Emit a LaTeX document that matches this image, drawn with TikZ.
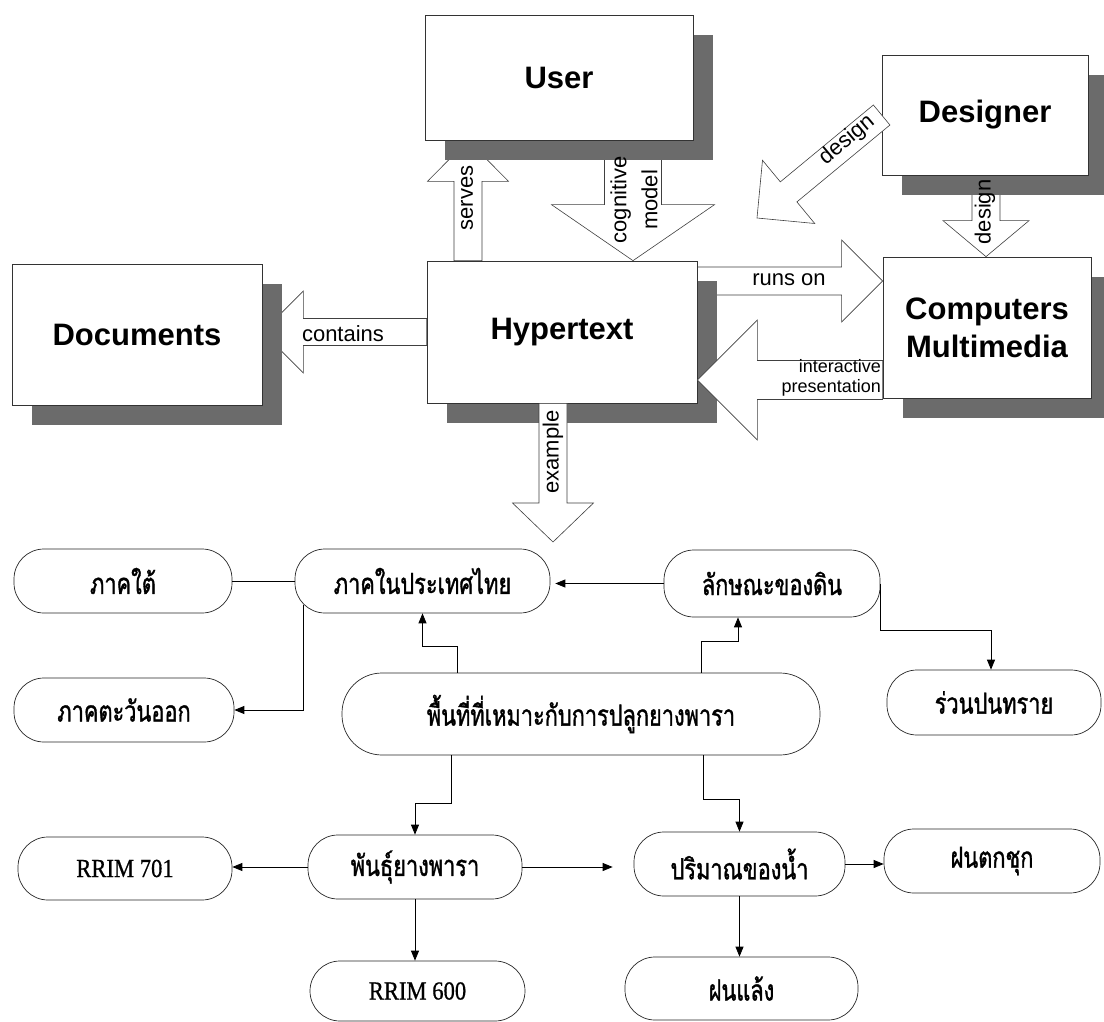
\documentclass[tikz,border=0pt]{standalone}
\usepackage{fontspec}
\setmainfont{Liberation Serif}
\setsansfont{Liberation Sans}
\newfontfamily\thaifont[Script=Thai, FakeStretch=0.75, FakeBold=1.2]{Loma}
\newfontfamily\rrimfont[FakeStretch=0.87, FakeBold=0.6]{Liberation Serif}
\usetikzlibrary{calc,shadows,arrows.meta}
\pgfdeclarelayer{bg}
\pgfsetlayers{bg,main}

% #1 options, #2 tail point, #3 tip point, #4 shaft half width, #5 head half width, #6 head length
\newcommand\BlkArrow[6][]{%
  \path (#2) coordinate (bas) (#3) coordinate (bae);
  \path ($(bae)!#6!(bas)$) coordinate (ban);
  \draw[blockarrow,#1] ($(bas)!#4!90:(bae)$) -- ($(ban)!#4!-90:(bas)$)
     -- ($(ban)!#5!-90:(bas)$) -- (bae) -- ($(ban)!#5!90:(bas)$)
     -- ($(ban)!#4!90:(bas)$) -- ($(bas)!#4!-90:(bae)$) -- cycle;
}

\tikzset{
  bigbox/.style={draw=black!80, line width=0.7pt, fill=white, inner sep=0pt, align=center,
    font=\sffamily\bfseries\fontsize{31}{38}\selectfont,
    drop shadow={shadow xshift=20pt, shadow yshift=-20pt, fill=black!58, opacity=1}},
  blockarrow/.style={draw=black!75, line width=0.6pt, fill=white, line join=miter},
  albl/.style={font=\sffamily\fontsize{22}{31}\selectfont, inner sep=0pt, align=center},
  pill/.style={draw=black!85, line width=0.7pt, rounded corners=30pt, fill=white, inner sep=0pt,
    font=\thaifont\fontsize{29}{32}\selectfont},
  latinpill/.style={pill, font=\rrimfont\fontsize{26}{30}\selectfont},
  conn/.style={draw=black, line width=0.8pt},
  arr/.style={conn, -{Triangle[length=10pt,width=8pt]}},
}

\begin{document}
\begin{tikzpicture}[x=1pt,y=-1pt]
\begin{pgfonlayer}{bg}
  \fill[white] (0,0) rectangle (1104,1022);
\end{pgfonlayer}
\useasboundingbox (0,0) rectangle (1104,1022);

% ---------- top boxes ----------
\node[bigbox, minimum width=268pt, minimum height=125pt] (User) at (559,77.5) {User};
\node[bigbox, minimum width=270pt, minimum height=142pt] (Hyper) at (562,332) {Hypertext};
\node[bigbox, minimum width=250pt, minimum height=141pt] (Docs) at (137,334.5) {Documents};
\node[bigbox, minimum width=206pt, minimum height=120pt] (Designer) at (985,115) {Designer};
\node[bigbox, minimum width=208pt, minimum height=141pt] (Comp) at (987,327.5) {Computers\\Multimedia};

% ---------- block arrows under boxes ----------
\begin{pgfonlayer}{bg}
  \BlkArrow{$(Hyper.north)+(-94,0)$}{$(User.south)+(-91,0)$}{14pt}{40.5pt}{41pt}
  \BlkArrow{$(User.south)+(74,0)$}{$(Hyper.north)+(71,0)$}{28.5pt}{81.5pt}{56pt}
  \BlkArrow{$(Hyper.east)+(0,-51)$}{$(Comp.west)+(0,-46.5)$}{14pt}{41pt}{41pt}
  \BlkArrow{Hyper.west}{Docs.east |- Hyper.west}{13.5pt}{41pt}{41pt}
  \BlkArrow{$(Designer.south)+(1,0)$}{$(Comp.north)+(-1,0)$}{14pt}{43pt}{36pt}
\end{pgfonlayer}

% ---------- block arrows over boxes ----------
\coordinate (exTip) at (553,542);
\coordinate (dgTip) at (757,218);
\BlkArrow{$(Comp.west)+(0,52.5)$}{$(Hyper.east)+(0,48)$}{19.5pt}{60pt}{60pt}
\BlkArrow{$(Hyper.south)+(-9,0)$}{exTip}{14pt}{40.5pt}{39pt}
\BlkArrow{Designer.west}{dgTip}{13pt}{41pt}{41pt}

% ---------- block arrow labels ----------
\node[albl, rotate=90] (lServes) at (467,198) {serves};
\node[albl, rotate=90] (lCog) at (634,200) {cognitive\\model};
\node[albl] (lRuns) at (789,280) {runs on};
\node[albl] (lCont) at (343,334) {contains};
\node[albl, rotate=90] (lDes1) at (985,212) {design};
\node[albl, rotate=40] (lDes2) at (847,140) {design};
\node[albl, rotate=90] (lEx) at (553,452) {example};
\node[albl, font=\sffamily\fontsize{18}{20}\selectfont, align=right, anchor=east] (lInt) at (881,378) {interactive\\presentation};

% ---------- lower graph ----------
\node[pill, minimum width=218pt, minimum height=64pt] (south) at (123,581) {ภาคใต้};
\node[pill, minimum width=255pt, minimum height=64pt] (thai) at (422.5,581) {ภาคในประเทศไทย};
\node[pill, minimum width=220pt, minimum height=64pt] (east) at (124,710) {ภาคตะวันออก};
\node[pill, minimum width=216pt, minimum height=67pt] (soil) at (772,583.5) {ลักษณะของดิน};
\node[pill, minimum width=214pt, minimum height=65pt] (sandy) at (994,702.5) {ร่วนปนทราย};
\node[pill, rounded corners=40pt, minimum width=478pt, minimum height=82pt] (area) at (581,714) {พื้นที่ที่เหมาะกับการปลูกยางพารา};
\node[latinpill, minimum width=214pt, minimum height=63pt] (r701) at (125,868.5) {RRIM 701};
\node[pill, minimum width=214pt, minimum height=64pt] (variety) at (415,867) {พันธุ์ยางพารา};
\node[pill, minimum width=211pt, minimum height=64pt] (water) at (739.5,864) {ปริมาณของน้ำ};
\node[pill, minimum width=216pt, minimum height=64pt] (heavy) at (992,861) {ฝนตกชุก};
\node[latinpill, minimum width=215pt, minimum height=60pt] (r600) at (417.5,991) {RRIM 600};
\node[pill, minimum width=233pt, minimum height=63pt] (drought) at (741.5,988.5) {ฝนแล้ง};

\draw[conn] (south.east) -- (thai.west);
\draw[arr] ($(thai.south west)+(9,-8)$) |- (east.east);
\draw[arr] ($(area.north)+(-124,0)$) -- ++(0,-26) -| (thai.south);
\draw[arr] ($(area.north)+(120,0)$) -- ++(0,-31) -| ($(soil.south)+(-34,0)$);
\draw[arr, shorten >=5pt] (soil.west) -- (soil.west -| thai.east);
\draw[arr] (soil.east) -- ++(0,46.5) -| ($(sandy.north)+(-3,0)$);
\draw[arr] ($(area.south)+(-130,0)$) -- ++(0,48) -| (variety.north);
\draw[arr] ($(area.south)+(122,0)$) -- ++(0,44) -| (water.north);
\draw[arr] (variety.west) -- (variety.west -| r701.east);
\draw[arr, shorten >=21pt] (variety.east) -- (variety.east -| water.west);
\draw[arr] (water.east) -- (water.east -| heavy.west);
\draw[arr] (variety.south) -- (variety.south |- r600.north);
\draw[arr] (water.south) -- (water.south |- drought.north);
\end{tikzpicture}
\end{document}
